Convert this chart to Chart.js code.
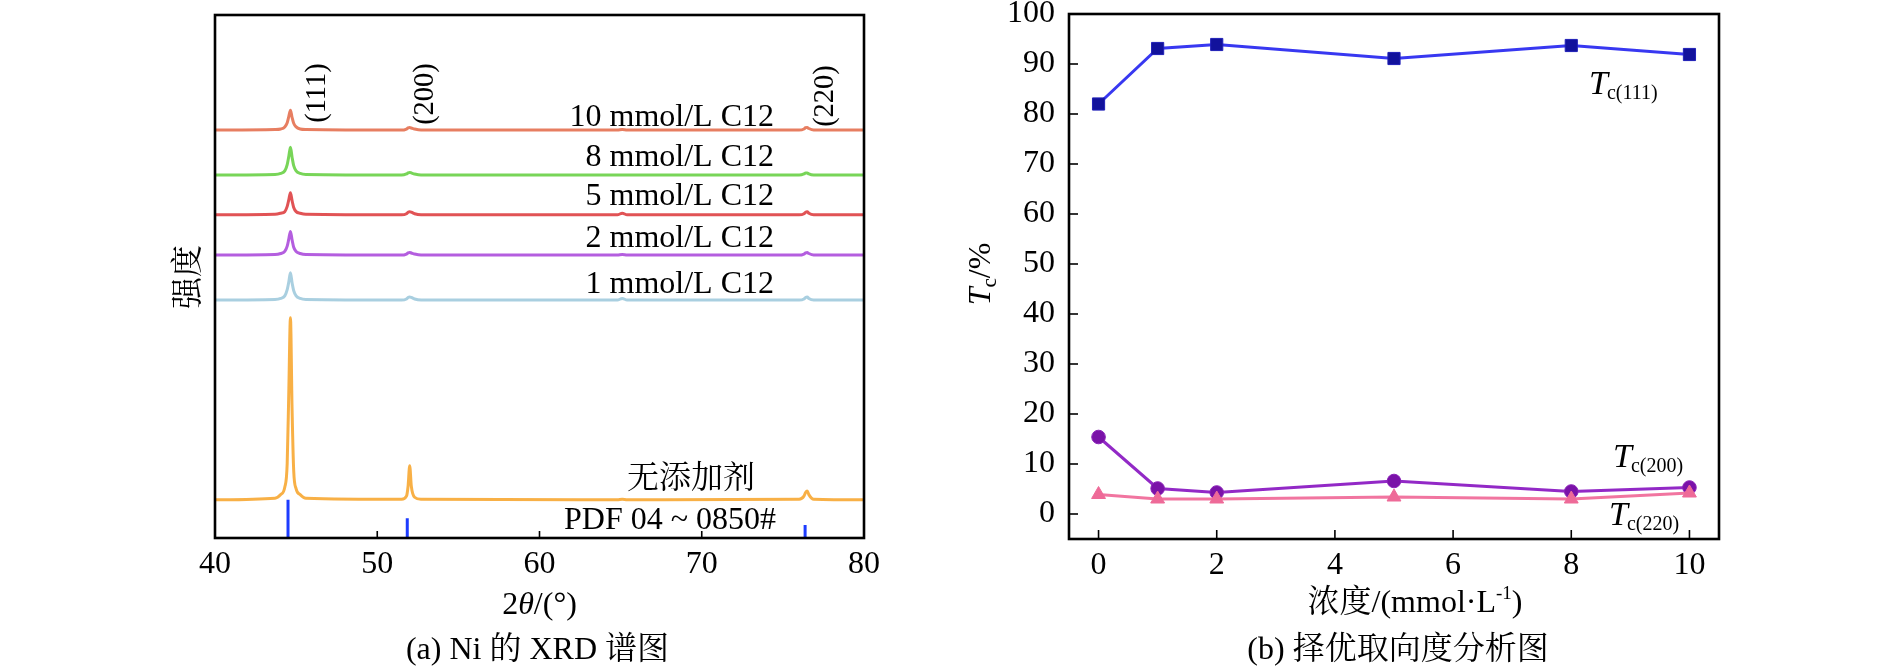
<!DOCTYPE html>
<html><head><meta charset="utf-8">
<script src="https://cdn.jsdelivr.net/npm/chart.js@4"></script>
<style>
html,body{margin:0;padding:0;background:#fff;width:1890px;height:670px;overflow:hidden}
canvas{position:absolute;left:0;top:0}
</style></head>
<body>
<canvas id="chartA" width="1890" height="670"></canvas>
<canvas id="chartB" width="1890" height="670"></canvas>
<script>
// ---------- Panel (a): XRD patterns ----------
const twoTheta = [40, 43.7, 44.05, 44.3, 44.45, 44.55, 44.65, 44.75, 44.85, 45.0, 45.25, 45.6,
                  51.5, 51.8, 51.9, 52.0, 52.1, 52.3, 52.7, 64.8, 65.1, 65.4,
                  76.0, 76.3, 76.4, 76.5, 76.6, 76.9, 80];
const int10mM = [78.0, 78.1, 78.2, 78.6, 79.4, 80.6, 81.8, 80.4, 79.3, 78.6, 78.2, 78.1,
                 78.0, 78.2, 78.4, 78.5, 78.4, 78.2, 78.0, 78.0, 78.1, 78.0,
                 78.0, 78.2, 78.45, 78.5, 78.3, 78.0, 78.0];
const int8mM  = [69.4, 69.5, 69.7, 70.2, 71.4, 73.0, 74.7, 72.8, 71.2, 70.2, 69.7, 69.5,
                 69.4, 69.6, 69.8, 69.9, 69.8, 69.6, 69.4, 69.4, 69.4, 69.4,
                 69.4, 69.6, 69.8, 69.8, 69.6, 69.4, 69.4];
const int5mM  = [61.8, 61.9, 62.1, 62.4, 63.4, 64.7, 66.0, 64.5, 63.2, 62.4, 62.1, 61.9,
                 61.8, 62.0, 62.3, 62.4, 62.3, 62.0, 61.8, 61.8, 62.1, 61.8,
                 61.8, 62.0, 62.3, 62.4, 62.1, 61.8, 61.8];
const int2mM  = [54.1, 54.2, 54.4, 54.8, 55.8, 57.2, 58.6, 57.0, 55.6, 54.8, 54.4, 54.2,
                 54.1, 54.3, 54.5, 54.6, 54.5, 54.3, 54.1, 54.1, 54.2, 54.1,
                 54.1, 54.3, 54.5, 54.6, 54.4, 54.1, 54.1];
const int1mM  = [45.5, 45.6, 45.8, 46.3, 47.5, 49.0, 50.7, 48.8, 47.3, 46.3, 45.8, 45.6,
                 45.5, 45.7, 46.0, 46.1, 46.0, 45.7, 45.5, 45.5, 45.8, 45.5,
                 45.5, 45.7, 46.0, 46.1, 45.8, 45.5, 45.5];
const intNone = [7.3, 7.6, 8.3, 9.7, 14.3, 28.2, 42.1, 24.7, 12.9, 9.4, 8.3, 7.6,
                 7.4, 8.0, 9.9, 13.8, 9.9, 7.8, 7.4, 7.3, 7.4, 7.3,
                 7.4, 8.0, 8.7, 9.0, 8.3, 7.4, 7.3];
const pdfAngles  = [44.5, 51.85, 76.37];
const pdfHeights = [7.3, 3.8, 2.5];
const xTicksA = [40, 50, 60, 70, 80];

// ---------- Panel (b): texture coefficients ----------
const conc  = [0, 1, 2, 5, 8, 10];
const tc111 = [82.0, 93.1, 93.9, 91.1, 93.7, 91.9];
const tc200 = [15.4, 5.1, 4.3, 6.6, 4.5, 5.3];
const tc220 = [3.9, 3.0, 3.0, 3.4, 3.0, 4.2];
const xTicksB = [0, 2, 4, 6, 8, 10];
const yTicksB = [0, 10, 20, 30, 40, 50, 60, 70, 80, 90, 100];

const SERIF = '"Liberation Serif", "Times New Roman", "Noto Serif CJK SC", "Noto Sans CJK SC", serif';
const f = (px, style) => (style ? style + ' ' : '') + px + 'px ' + SERIF;

function pts(xs, ys) { return xs.map((x, i) => ({x: x, y: ys[i]})); }
function sticks(xs, hs) {
  const out = [];
  xs.forEach((x, i) => { out.push({x: x, y: 0}, {x: x, y: hs[i]}, {x: x, y: null}); });
  return out;
}

function drawRuns(ctx, parts, x, y, align) {
  let total = 0;
  parts.forEach(p => { ctx.font = p[1]; total += ctx.measureText(p[0]).width; });
  let cx = align === 'center' ? x - total / 2 : (align === 'right' ? x - total : x);
  ctx.textAlign = 'left';
  ctx.textBaseline = 'alphabetic';
  parts.forEach(p => {
    ctx.font = p[1];
    ctx.fillText(p[0], cx, y + (p[2] || 0));
    cx += ctx.measureText(p[0]).width + (p[3] || 0);
  });
}

const framePlugin = {
  id: 'frameTicks',
  afterDraw(chart, args, opts) {
    const ctx = chart.ctx, a = chart.chartArea;
    ctx.save();
    ctx.strokeStyle = '#000';
    ctx.lineWidth = 1.6;
    const xs = chart.scales.x, ys = chart.scales.y;
    if (opts.xLen) {
      xs.ticks.forEach(t => {
        const px = xs.getPixelForValue(t.value);
        ctx.beginPath(); ctx.moveTo(px, a.bottom); ctx.lineTo(px, a.bottom - opts.xLen); ctx.stroke();
      });
    }
    if (opts.yLen) {
      ys.ticks.forEach(t => {
        const py = ys.getPixelForValue(t.value);
        ctx.beginPath(); ctx.moveTo(a.left, py); ctx.lineTo(a.left + opts.yLen, py); ctx.stroke();
      });
    }
    ctx.lineWidth = 2.6;
    ctx.strokeRect(a.left, a.top, a.right - a.left, a.bottom - a.top);
    ctx.fillStyle = '#000';
    if (opts.texts) opts.texts(ctx, chart);
    ctx.restore();
  }
};

function textsA(ctx) {
  // y title
  ctx.save(); ctx.translate(190, 277); ctx.rotate(-Math.PI / 2);
  ctx.font = f(32); ctx.textAlign = 'center'; ctx.textBaseline = 'middle';
  ctx.fillText('强度', 0, 0); ctx.restore();
  // peak indices
  [['(111)', 318, 93], ['(200)', 425.5, 94], ['(220)', 826, 96]].forEach(l => {
    ctx.save(); ctx.translate(l[1], l[2]); ctx.rotate(-Math.PI / 2);
    ctx.font = f(28.5); ctx.textAlign = 'center'; ctx.textBaseline = 'middle';
    ctx.fillText(l[0], 0, 0); ctx.restore();
  });
  // trace labels
  ctx.font = f(32); ctx.textAlign = 'right'; ctx.textBaseline = 'alphabetic';
  [['10 mmol/L C12', 126], ['8 mmol/L C12', 166], ['5 mmol/L C12', 205],
   ['2 mmol/L C12', 246.5], ['1 mmol/L C12', 292.5]].forEach(l => ctx.fillText(l[0], 774, l[1]));
  ctx.textAlign = 'center'; ctx.textBaseline = 'middle';
  ctx.fillText('无添加剂', 691, 480);
  ctx.textBaseline = 'alphabetic';
  ctx.fillText('PDF 04 ~ 0850#', 670, 529);
  // x title + caption
  drawRuns(ctx, [['2', f(32)], ['θ', f(32, 'italic')], ['/(°)', f(32)]], 539.5, 614, 'center');
  drawRuns(ctx, [['(a) Ni 的 XRD 谱图', f(32)]], 537.5, 659, 'center');
}

function textsB(ctx) {
  ctx.save(); ctx.translate(990, 274); ctx.rotate(-Math.PI / 2);
  drawRuns(ctx, [['T', f(32, 'italic')], ['c', f(21), 6], ['/%', f(32)]], 0, 0, 'center');
  ctx.restore();
  drawRuns(ctx, [['浓度/(mmol·L', f(32)], ['-1', f(19), -13], [')', f(32)]], 1415, 612, 'center');
  drawRuns(ctx, [['(b) 择优取向度分析图', f(32)]], 1398, 659, 'center');
  drawRuns(ctx, [['T', f(34, 'italic'), 0, -1], ['c(111)', f(20), 5]], 1589, 94, 'left');
  drawRuns(ctx, [['T', f(34, 'italic'), 0, -1], ['c(200)', f(20), 5]], 1613, 467, 'left');
  drawRuns(ctx, [['T', f(34, 'italic'), 0, -1], ['c(220)', f(20), 5]], 1609, 525, 'left');
}

Chart.defaults.font.family = SERIF;
Chart.defaults.color = '#000';

const trace = (label, arr, color) => ({
  label: label, data: pts(twoTheta, arr), borderColor: color, borderWidth: 3,
  pointRadius: 0, cubicInterpolationMode: 'monotone', fill: false
});

new Chart(document.getElementById('chartA'), {
  type: 'line',
  data: {
    datasets: [
      trace('10 mmol/L C12', int10mM, 'rgba(228,112,80,0.9)'),
      trace('8 mmol/L C12', int8mM, 'rgba(105,208,70,0.9)'),
      trace('5 mmol/L C12', int5mM, 'rgba(222,64,66,0.9)'),
      trace('2 mmol/L C12', int2mM, 'rgba(172,76,220,0.9)'),
      trace('1 mmol/L C12', int1mM, 'rgba(164,204,222,0.95)'),
      trace('无添加剂', intNone, 'rgba(248,172,60,0.95)'),
      { label: 'PDF 04-0850', data: sticks(pdfAngles, pdfHeights), borderColor: '#1d3cff',
        borderWidth: 3, pointRadius: 0, spanGaps: false, fill: false }
    ]
  },
  options: {
    responsive: false, animation: false, devicePixelRatio: 1,
    layout: { padding: { left: 215, right: 1026, top: 15, bottom: 0 } },
    plugins: { legend: { display: false }, tooltip: { enabled: false },
      frameTicks: { xLen: 7, texts: textsA } },
    scales: {
      x: { type: 'linear', min: 40, max: 80,
        afterBuildTicks: s => { s.ticks = xTicksA.map(v => ({value: v})); },
        afterFit: s => { s.height = 132; s.paddingLeft = 0; s.paddingRight = 0; },
        grid: { display: false, drawTicks: false }, border: { display: false },
        ticks: { font: { size: 32, lineHeight: 1 }, padding: 11, maxRotation: 0, autoSkip: false } },
      y: { type: 'linear', min: 0, max: 100, display: false }
    }
  },
  plugins: [framePlugin]
});

new Chart(document.getElementById('chartB'), {
  type: 'line',
  data: {
    datasets: [
      { label: 'Tc(220)', data: pts(conc, tc220), borderColor: 'rgba(240,110,155,0.95)', borderWidth: 3,
        pointStyle: 'triangle', pointRadius: 8, pointBackgroundColor: '#ee6a98', pointBorderColor: '#ee6a98', pointBorderWidth: 1 },
      { label: 'Tc(200)', data: pts(conc, tc200), borderColor: 'rgba(140,30,195,0.95)', borderWidth: 3,
        pointStyle: 'circle', pointRadius: 6.8, pointBackgroundColor: '#7a12a8', pointBorderColor: '#8a22b8', pointBorderWidth: 1 },
      { label: 'Tc(111)', data: pts(conc, tc111), borderColor: 'rgba(45,45,240,0.95)', borderWidth: 3,
        pointStyle: 'rect', pointRadius: 8.6, pointBackgroundColor: '#12129c', pointBorderColor: '#2020b8', pointBorderWidth: 1 }
    ]
  },
  options: {
    responsive: false, animation: false, devicePixelRatio: 1,
    layout: { padding: { left: 0, right: 171, top: 14, bottom: 0 } },
    plugins: { legend: { display: false }, tooltip: { enabled: false },
      frameTicks: { xLen: 9, yLen: 9, texts: textsB } },
    scales: {
      x: { type: 'linear', min: -0.5, max: 10.5,
        afterBuildTicks: s => { s.ticks = xTicksB.map(v => ({value: v})); },
        afterFit: s => { s.height = 131; s.paddingLeft = 0; s.paddingRight = 0; },
        grid: { display: false, drawTicks: false }, border: { display: false },
        ticks: { font: { size: 32, lineHeight: 1 }, padding: 11, maxRotation: 0, autoSkip: false } },
      y: { type: 'linear', min: -5, max: 100,
        afterBuildTicks: s => { s.ticks = yTicksB.map(v => ({value: v})); },
        afterFit: s => { s.width = 1069; s.paddingTop = 0; s.paddingBottom = 0; },
        grid: { display: false, drawTicks: false }, border: { display: false },
        ticks: { font: { size: 32, lineHeight: 1 }, padding: 14, autoSkip: false } }
    }
  },
  plugins: [framePlugin]
});
</script>
</body></html>
